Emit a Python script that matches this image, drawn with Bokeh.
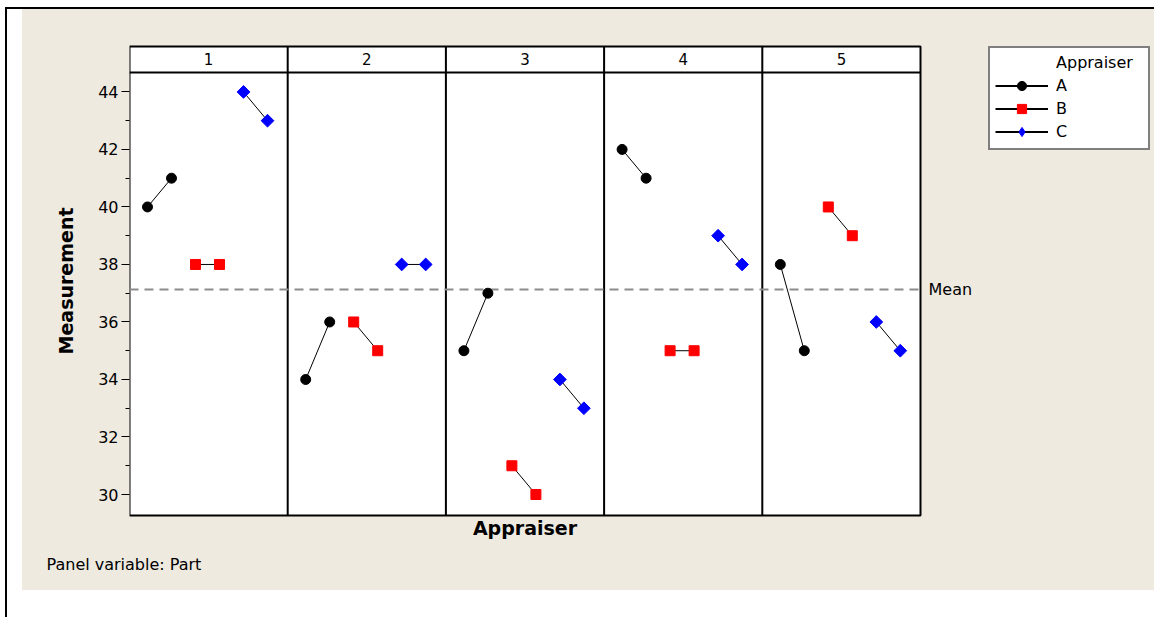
import numpy as np
from bokeh.plotting import figure
from bokeh.models import (Legend, LegendItem, FixedTicker, Range1d, Div, Spacer,
                          Title, Label, BoxAnnotation)
from bokeh.layouts import row, column
from bokeh.embed import file_html
from bokeh.resources import INLINE
from bokeh.core.properties import value

# ---------------- data ----------------
parts = ["1", "2", "3", "4", "5"]
appraisers = ["A", "B", "C"]
a_trial1 = [40, 34, 35, 42, 38]
a_trial2 = [41, 36, 37, 41, 35]
b_trial1 = [38, 36, 31, 35, 40]
b_trial2 = [38, 35, 30, 35, 39]
c_trial1 = [44, 38, 34, 39, 36]
c_trial2 = [43, 38, 33, 38, 35]
y_ticks = [30, 32, 34, 36, 38, 40, 42, 44]
y_minor_ticks = [31, 33, 35, 37, 39, 41, 43]

trials = {"A": (a_trial1, a_trial2), "B": (b_trial1, b_trial2), "C": (c_trial1, c_trial2)}
styles = {
    "A": dict(marker="circle", size=10, color="#000000", angle=0.0, legend_marker="circle"),
    "B": dict(marker="square", size=10, color="#FF0000", angle=0.0, legend_marker="square"),
    "C": dict(marker="square", size=9, color="#0000FF", angle=np.pi / 4, legend_marker="diamond"),
}
grand_mean = float(np.mean(a_trial1 + a_trial2 + b_trial1 + b_trial2 + c_trial1 + c_trial2))

# ---------------- layout constants ----------------
FONT = "DejaVu Sans"
BEIGE = "#EEEAE0"
FIG_W, FIG_H = 1132, 581
BORDER_L, BORDER_R, BORDER_T, BORDER_B = 107, 4, 35, 73
FRAME_W = FIG_W - BORDER_L - BORDER_R
PANEL_PX = 791 / 5                  # pixel width of one panel
PANEL_W = PANEL_PX / 24             # panel width in x units (slot spacing = 1 unit = 24 px)
FIRST = 0.75                        # offset of first slot in a panel
X_END = FRAME_W / 24
BOX_LO, BOX_HI = 29.27, 45.58       # panel box (data area + header strip)
HEADER_BOTTOM = 44.68
HEADER_MID = (HEADER_BOTTOM + BOX_HI) / 2
PAD = 2 / 28.76
PANELS_END = PANEL_W * len(parts)

p = figure(width=FIG_W, height=FIG_H, output_backend="svg", toolbar_location=None,
           x_range=Range1d(0, X_END), y_range=Range1d(BOX_LO - PAD, BOX_HI + PAD),
           min_border_left=BORDER_L, min_border_right=BORDER_R,
           min_border_top=BORDER_T, min_border_bottom=BORDER_B,
           styles={"background-color": BEIGE})
p.background_fill_color = BEIGE
p.border_fill_color = BEIGE
p.outline_line_color = None
p.xgrid.visible = False
p.ygrid.visible = False

# white panel box
p.add_layout(BoxAnnotation(left=0, right=PANELS_END, bottom=BOX_LO, top=BOX_HI,
                           fill_color="white", fill_alpha=1.0, line_color="black",
                           line_alpha=1.0, line_width=2, level="underlay"))

# y axis
p.yaxis.ticker = FixedTicker(ticks=y_ticks, minor_ticks=y_minor_ticks)
p.yaxis.major_tick_out = 8
p.yaxis.major_tick_in = 0
p.yaxis.minor_tick_out = 4
p.yaxis.minor_tick_in = 0
p.yaxis.major_tick_line_color = "black"
p.yaxis.minor_tick_line_color = "black"
p.yaxis.axis_line_color = None
p.yaxis.major_label_standoff = 3
p.yaxis.major_label_text_font = FONT
p.yaxis.major_label_text_font_size = "16px"
p.yaxis.major_label_text_color = "black"
p.yaxis.axis_label = "Measurement"
p.yaxis.axis_label_text_font = FONT
p.yaxis.axis_label_text_font_size = "19px"
p.yaxis.axis_label_text_font_style = "bold"
p.yaxis.axis_label_text_color = "black"
p.yaxis.axis_label_standoff = 18

# x axis: single label centred under the panels
x_center = PANELS_END / 2
p.xaxis.ticker = FixedTicker(ticks=[x_center], minor_ticks=[])
p.xaxis.major_label_overrides = {x_center: "Appraiser"}
p.xaxis.major_tick_out = 0
p.xaxis.major_tick_in = 0
p.xaxis.minor_tick_out = 0
p.xaxis.minor_tick_in = 0
p.xaxis.axis_line_color = None
p.xaxis.major_label_standoff = -1
p.xaxis.major_label_text_font = FONT
p.xaxis.major_label_text_font_size = "19px"
p.xaxis.major_label_text_font_style = "bold"
p.xaxis.major_label_text_color = "black"

# panel dividers and header separator
div_x = [i * PANEL_W for i in range(1, len(parts))]
p.segment(x0=div_x, y0=[BOX_LO] * len(div_x), x1=div_x, y1=[BOX_HI] * len(div_x),
          line_color="black", line_width=2)
p.segment(x0=[0], y0=[HEADER_BOTTOM], x1=[PANELS_END], y1=[HEADER_BOTTOM],
          line_color="black", line_width=2)

# panel header labels
centers = [(i + 0.5) * PANEL_W for i in range(len(parts))]
p.text(x=centers, y=[HEADER_MID] * len(parts), text=parts, text_align="center",
       text_baseline="middle", text_font=value(FONT), text_font_size=value("15px"),
       text_color="black")

# mean reference line
p.segment(x0=[0], y0=[grand_mean], x1=[PANELS_END], y1=[grand_mean], line_color="#8C8C8C",
          line_width=2, line_dash="9 6")
p.add_layout(Label(x=PANELS_END, y=grand_mean, x_offset=8, text="Mean",
                   text_baseline="middle", text_font=FONT, text_font_size="16px",
                   text_color="black"))

# data
items = []
for k, ap in enumerate(appraisers):
    t1, t2 = trials[ap]
    x1 = [i * PANEL_W + FIRST + 2 * k for i in range(len(parts))]
    x2 = [x + 1 for x in x1]
    p.segment(x0=x1, y0=t1, x1=x2, y1=t2, line_color="black", line_width=1)
    st = styles[ap]
    p.scatter(x=x1 + x2, y=list(t1) + list(t2), marker=st["marker"], size=st["size"],
              angle=st["angle"], fill_color=st["color"], line_color=st["color"])
    # legend keys (hidden renderers; legend keys cannot be rotated, so a diamond is used for C)
    key_line = p.segment(x0=x1, y0=t1, x1=x2, y1=t2, line_color="black", line_width=1.8,
                         visible=False)
    key_mark = p.scatter(x=x1 + x2, y=list(t1) + list(t2), marker=st["legend_marker"],
                         fill_color=st["color"], line_color=st["color"], visible=False)
    items.append(LegendItem(label=ap, renderers=[key_line, key_mark]))

nb = "\u00a0"
legend = Legend(items=items, location=(859, 367), title=nb * 12 + "Appraiser" + nb * 2,
                border_line_color="black", border_line_width=2,
                background_fill_color="white", background_fill_alpha=1.0,
                inactive_fill_alpha=0.0,
                padding=5, spacing=0, margin=0, glyph_width=53, glyph_height=23,
                label_height=20, label_standoff=8,
                label_text_font=FONT, label_text_font_size="16px", label_text_color="black",
                title_text_font=FONT, title_text_font_size="16px",
                title_text_font_style="normal", title_text_color="black", title_standoff=2)
p.add_layout(legend)

p.add_layout(Title(text="Panel variable: Part", align="left", offset=-83, standoff=22,
                   text_font=FONT, text_font_size="16px", text_font_style="normal",
                   text_color="black"), "below")

top_line = Div(text="", width=1149, height=2, margin=0, styles={"background-color": "black"})
left_line = Div(text="", width=2, height=608, margin=0, styles={"background-color": "black"})
layout = column(
    Spacer(width=1150, height=7, margin=0),
    row(Spacer(width=5, height=2, margin=0), top_line, spacing=0, margin=0),
    row(Spacer(width=5, height=10, margin=0), left_line, Spacer(width=15, height=10, margin=0), p,
        spacing=0, margin=0),
    spacing=0, margin=0)

open("out.html", "w").write(file_html(layout, INLINE))
